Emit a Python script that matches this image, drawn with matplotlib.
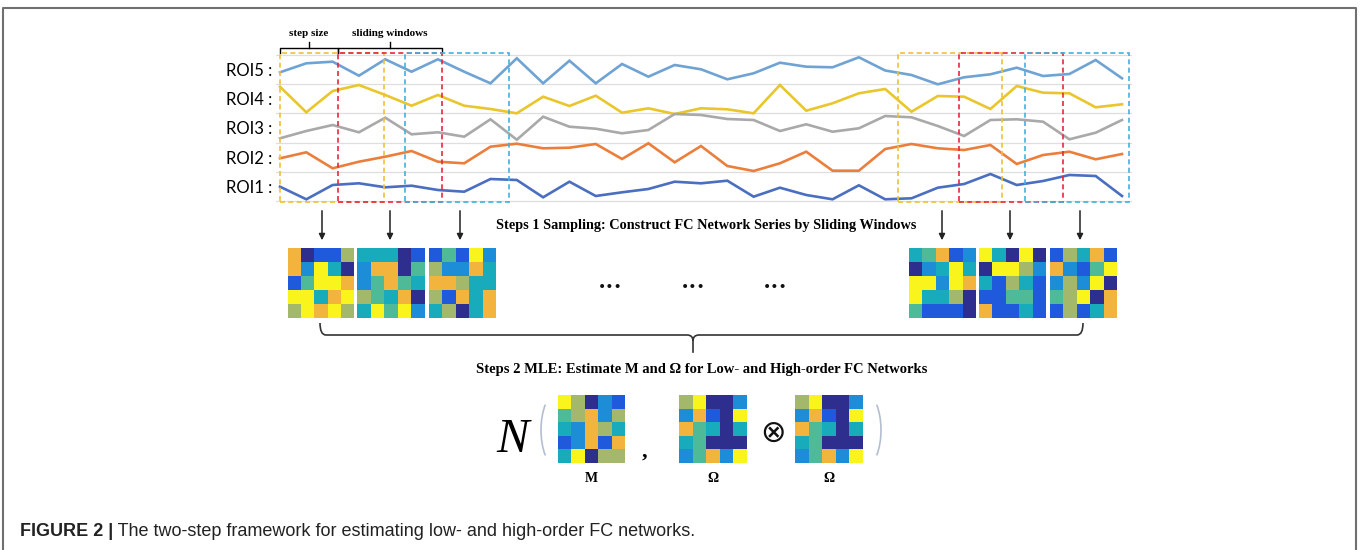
import numpy as np
import matplotlib
matplotlib.use("Agg")
import matplotlib.pyplot as plt
from matplotlib.colors import ListedColormap
from matplotlib.patches import Rectangle, Arc, PathPatch
from matplotlib.path import Path

W, H = 1363, 550

# ROI time series (33 time points), relative amplitude
roi5 = [128.7, 137.7, 139.3, 125.3, 141.7, 129.3, 141.7, 129.3, 117.7, 142.7, 117.7,
        140.3, 117.7, 137.0, 124.3, 136.0, 131.7, 121.7, 127.7, 138.3, 134.3, 133.7,
        143.7, 130.5, 126.0, 116.7, 123.7, 126.7, 133.3, 125.0, 127.0, 141.0, 122.7]
roi4 = [114.3, 88.7, 110.0, 116.0, 106.0, 95.3, 106.0, 95.3, 92.0, 87.7, 104.3,
        95.0, 105.3, 88.3, 92.7, 87.0, 92.7, 91.7, 87.7, 116.0, 90.3, 97.7,
        107.7, 112.0, 89.3, 105.0, 104.3, 92.0, 115.0, 108.3, 107.7, 93.7, 96.7]
roi3 = [62.7, 70.0, 76.0, 68.7, 83.3, 66.7, 68.7, 64.3, 81.7, 61.3, 84.3,
        74.3, 72.3, 67.7, 71.0, 87.0, 86.0, 82.0, 81.0, 70.0, 76.7, 69.3,
        72.7, 85.0, 83.7, 75.0, 65.0, 81.0, 81.7, 79.3, 61.7, 68.3, 81.0]
roi2 = [42.7, 48.7, 32.7, 39.3, 44.3, 50.0, 39.3, 37.7, 54.3, 57.3, 52.7,
        53.3, 57.0, 42.0, 57.7, 38.7, 55.0, 35.0, 30.0, 37.7, 49.3, 30.3,
        30.3, 52.0, 57.0, 52.7, 51.0, 56.0, 37.0, 46.0, 49.3, 41.7, 47.0]
roi1 = [14.3, 1.7, 16.0, 17.7, 13.7, 15.3, 11.0, 9.3, 22.0, 21.0, 3.7,
        19.3, 5.0, 8.7, 12.0, 19.3, 17.7, 20.3, 4.3, 13.3, 6.0, 1.7,
        15.7, 1.7, 2.7, 13.3, 17.0, 27.0, 16.0, 20.0, 26.0, 25.0, 5.0]
roi_labels = ["ROI5 :", "ROI4 :", "ROI3 :", "ROI2 :", "ROI1 :"]
roi_colors = ["#6FA3D3", "#E9C62C", "#A9A9A9", "#EC7E3C", "#4A6EC0"]

# sliding windows (start index, width in time points)
win_starts = [0.0, 2.2, 4.75, 23.5, 25.8, 28.3]
win_width = 3.95
win_colors = ["#F2BF3A", "#E8283A", "#3DB3E0"] * 2

# FC matrices, levels 0 (low) .. 7 (high)
fc1 = [[6, 0, 1, 1, 5], [6, 2, 7, 3, 0], [1, 4, 7, 7, 6], [7, 7, 3, 6, 7], [5, 7, 6, 7, 5]]
fc2 = [[3, 3, 3, 0, 1], [2, 6, 6, 0, 4], [2, 4, 6, 4, 3], [5, 4, 3, 6, 0], [3, 7, 4, 7, 2]]
fc3 = [[1, 4, 1, 7, 2], [5, 2, 2, 6, 3], [6, 6, 5, 3, 3], [5, 1, 6, 3, 6], [3, 5, 0, 3, 6]]
fc4 = [[3, 4, 6, 1, 2], [0, 2, 3, 7, 3], [7, 7, 2, 7, 6], [7, 3, 3, 5, 0], [4, 1, 1, 1, 0]]
fc5 = [[7, 3, 0, 7, 0], [0, 7, 7, 5, 2], [3, 1, 5, 3, 1], [1, 1, 4, 4, 1], [6, 1, 1, 3, 1]]
fc6 = [[1, 5, 3, 6, 1], [6, 2, 1, 4, 7], [2, 5, 2, 7, 0], [4, 5, 7, 0, 6], [1, 5, 1, 3, 6]]
mat_M = [[7, 5, 0, 2, 1], [4, 5, 6, 2, 5], [3, 2, 6, 5, 3], [1, 2, 6, 1, 6], [3, 7, 0, 5, 5]]
mat_Omega = [[5, 7, 0, 0, 2], [2, 6, 1, 0, 7], [6, 4, 3, 0, 3], [3, 4, 0, 0, 0], [2, 4, 6, 2, 7]]

parula8 = ListedColormap(["#2E2E8E", "#1E5ADB", "#1C8DD6", "#17ABBC",
                          "#4FBA98", "#A4B86C", "#F3B43E", "#F8F41C"])

serif = "Liberation Serif"

fig = plt.figure(figsize=(W / 100, H / 100), dpi=100)
canvas = fig.add_axes([0, 0, 1, 1])
canvas.set_xlim(0, W)
canvas.set_ylim(H, 0)
canvas.axis("off")


def px_axes(x0, y0, x1, y1):
    return fig.add_axes([x0 / W, 1 - y1 / H, (x1 - x0) / W, (y1 - y0) / H])


# ---- time series panel
ax = px_axes(276, 51, 1132, 204)
ax.set_xlim(-0.152, 32.38)
ax.set_ylim(-3, 150)
t = np.arange(len(roi1))
for vals, c in zip([roi5, roi4, roi3, roi2, roi1], roi_colors):
    ax.plot(t, vals, color=c, lw=1.9, zorder=3, solid_joinstyle="miter")
band = 146 / 5
ax.set_yticks([band * i for i in range(6)], minor=True)
ax.set_yticks([band * (4.5 - i) for i in range(5)])
ax.set_yticklabels(roi_labels, fontsize=12, family="Lato")
ax.tick_params(axis="y", which="both", length=0, pad=3)
ax.tick_params(axis="x", which="both", length=0, labelbottom=False)
ax.grid(True, axis="y", which="minor", color="#DEDEDE", lw=0.9)
ax.set_facecolor("none")
for s in ax.spines.values():
    s.set_visible(False)

for x0, c in zip(win_starts, win_colors):
    ax.add_patch(Rectangle((x0, -1), win_width, 149, fill=False, ec=c, lw=1.2,
                           ls=(0, (3, 2)), zorder=4, clip_on=False))

# brackets for step size / sliding window
def bracket(a, b, label):
    ax.plot([a, a, b, b], [148, 153, 153, 148], color="black", lw=1, clip_on=False)
    m = (a + b) / 2
    ax.plot([m, m], [153, 159], color="black", lw=1, clip_on=False)
    ax.text(m, 163, label, ha="center", va="bottom", family=serif, fontweight="bold",
            fontsize=8, clip_on=False)


bracket(win_starts[0], win_starts[1], "step size")
bracket(win_starts[1], win_starts[1] + win_width, "sliding windows")

# ---- arrows and sampled FC matrices
for x in [322, 390, 460, 942, 1010, 1080]:
    canvas.annotate("", xy=(x, 243), xytext=(x, 208),
                    arrowprops=dict(arrowstyle="-|>", color="#222222", lw=1.1, mutation_scale=9))

canvas.text(706, 226, "Steps 1 Sampling: Construct FC Network Series by Sliding Windows",
            ha="center", va="center", family=serif, fontweight="bold", fontsize=10.3)

top_mats = [fc1, fc2, fc3, fc4, fc5, fc6]
top_x = [(288, 354), (357, 424), (429, 496), (909, 976), (979, 1046), (1050, 1117)]
for m, (x0, x1) in zip(top_mats, top_x):
    a = px_axes(x0, 248, x1, 318)
    a.imshow(np.array(m), cmap=parula8, vmin=-0.5, vmax=7.5, aspect="auto",
             interpolation="nearest")
    a.axis("off")

for x in [610, 693, 775]:
    canvas.text(x, 287, "\u2022\u2022\u2022", ha="center", va="center", fontsize=10,
                color="#111111")

# brace
brace_l = Path([(320, 323), (320, 335), (326, 335), (687, 335), (693, 335), (693, 341)],
               [Path.MOVETO, Path.CURVE3, Path.CURVE3, Path.LINETO, Path.CURVE3, Path.CURVE3])
brace_r = Path([(1083, 323), (1083, 335), (1077, 335), (699, 335), (693, 335), (693, 341)],
               [Path.MOVETO, Path.CURVE3, Path.CURVE3, Path.LINETO, Path.CURVE3, Path.CURVE3])
for p in [brace_l, brace_r]:
    canvas.add_patch(PathPatch(p, fill=False, ec="#333333", lw=1.2))
canvas.plot([693, 693], [341, 352], color="#333333", lw=1.2)

canvas.text(702, 369, "Steps 2 MLE: Estimate M and \u03a9 for Low- and High-order FC Networks",
            ha="center", va="center", family=serif, fontweight="bold", fontsize=10.5)

# ---- MLE formula
canvas.text(513, 440, "N", ha="center", va="center", family=serif, style="italic",
            fontsize=35)
canvas.add_patch(Arc((560, 430), 38, 80, theta1=120, theta2=240, ec="#B3BED0", lw=1.2))
canvas.add_patch(Arc((862, 430), 38, 80, theta1=-60, theta2=60, ec="#B3BED0", lw=1.2))

bottom_mats = [mat_M, mat_Omega, mat_Omega]
bottom_x = [(558, 625), (679, 747), (795, 863)]
bottom_lab = ["M", "\u03a9", "\u03a9"]
for m, (x0, x1), lab in zip(bottom_mats, bottom_x, bottom_lab):
    a = px_axes(x0, 395, x1, 463)
    a.imshow(np.array(m), cmap=parula8, vmin=-0.5, vmax=7.5, aspect="auto",
             interpolation="nearest")
    a.axis("off")
    canvas.text((x0 + x1) / 2, 478, lab, ha="center", va="center", family=serif,
                fontweight="bold", fontsize=10)

canvas.text(645, 452, ",", ha="center", va="center", family=serif, fontweight="bold",
            fontsize=16)
canvas.text(773, 433, "\u2297", ha="center", va="center", fontsize=22, color="#111111")

# ---- frame and caption
canvas.plot([3, 3, 1356, 1356], [H, 8, 8, H], color="#707070", lw=1.5)
t1 = canvas.text(20, 531, "FIGURE 2 |", ha="left", va="center", family="Liberation Sans",
                 fontweight="bold", fontsize=13, color="#222222")
canvas.annotate(" The two-step framework for estimating low- and high-order FC networks.",
                xy=(1, 0.5), xycoords=t1, ha="left", va="center", family="Liberation Sans",
                fontsize=13, color="#222222")

fig.savefig("out.png", dpi=100)
